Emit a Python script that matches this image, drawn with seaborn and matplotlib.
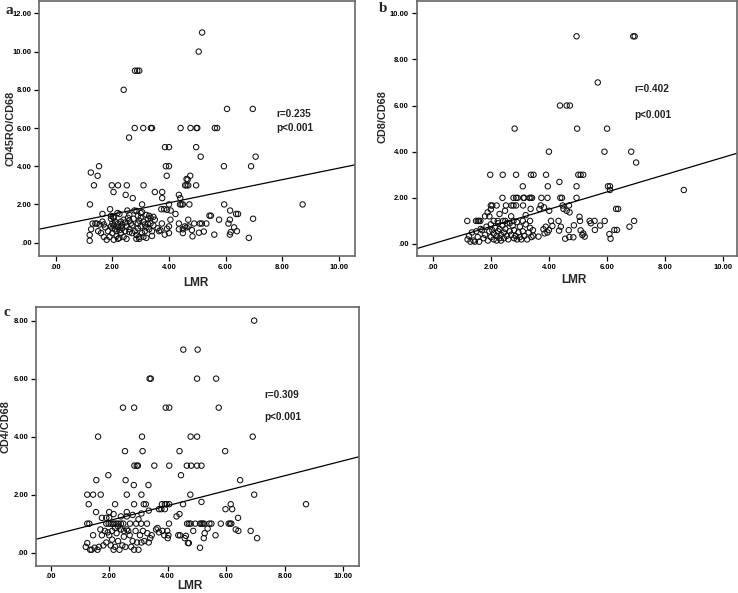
import numpy as np
import pandas as pd
import matplotlib
matplotlib.use("Agg")
import matplotlib.pyplot as plt
import seaborn as sns

# ---------------- data ----------------
# Panel a: LMR vs CD45RO/CD68
lmr_a = [5.17, 5.05, 2.80, 2.88, 2.95, 2.40, 6.05, 6.96,
         2.79, 3.09, 3.36, 3.40, 4.41, 4.76, 4.97, 5.00, 5.62, 5.70, 2.59, 3.86, 4.00, 4.96, 5.12, 7.06,
         1.53, 3.89, 4.00, 5.94, 6.90, 1.24, 1.48, 3.92, 4.75, 4.62, 4.66,
         1.35, 1.98, 2.20, 2.51, 3.10, 4.57, 4.62, 4.68, 4.96,
         2.04, 3.50, 3.76, 2.47, 4.35, 2.72, 3.76, 4.40, 1.21, 3.05, 4.00, 4.39, 4.44, 4.49, 4.72, 5.95, 8.72,
         1.92, 3.73, 3.83, 3.93, 4.06, 6.16, 2.53, 2.78, 2.85, 1.65, 4.23, 6.37, 6.44, 2.18, 2.25, 3.00, 3.05,
         3.20, 3.30, 5.43, 5.48, 1.95, 2.03, 2.60, 2.90, 3.35, 3.45,
         5.09, 5.16, 5.32, 4.68, 4.35, 6.15, 6.10, 6.97, 4.89, 5.77, 4.56, 4.62, 4.69, 4.49, 4.81,
         6.30, 6.40, 6.18, 5.06, 5.23, 5.60, 6.15, 6.82, 4.83, 4.49, 4.00, 4.00, 3.93, 3.85, 4.35,
         3.65, 3.70, 3.75, 3.60, 4.05,
         1.2, 1.25, 1.2, 1.3, 1.4, 1.45, 1.5, 1.6, 1.65, 1.7, 1.75, 1.8, 1.85, 1.9, 1.95, 1.95, 2.0, 2.0,
         2.05, 2.05, 2.1, 2.1, 2.15, 2.15, 2.2, 2.2, 2.2, 2.25, 2.25, 2.3, 2.3, 2.35, 2.35, 2.4, 2.4, 2.45,
         2.5, 2.5, 2.55, 2.6, 2.6, 2.65, 2.7, 2.7, 2.75, 2.8, 2.85, 2.85, 2.9, 2.9, 2.95, 2.95, 3.0, 3.0,
         3.05, 3.1, 3.1, 3.15, 3.2, 3.2, 3.25, 3.3, 3.35, 3.4, 3.4, 3.45, 3.5, 3.25, 2.45, 1.55,
         2.0, 2.3, 2.6, 2.95, 3.15, 1.7, 2.05]
cd45ro_cd68 = [11.0, 10.0, 9.0, 9.0, 9.0, 8.0, 7.0, 7.0,
               6, 6, 6, 6, 6, 6, 6, 6, 6, 6, 5.5, 5, 5, 5, 4.5, 4.5,
               4, 4, 4, 4, 4, 3.67, 3.5, 3.5, 3.5, 3.33, 3.3,
               3, 3, 3, 3, 3, 3, 3, 3, 3,
               2.65, 2.65, 2.65, 2.5, 2.5, 2.33, 2.33, 2.33, 2, 2, 2, 2, 2, 2, 2, 2, 2,
               1.75, 1.75, 1.75, 1.72, 1.68, 1.68, 1.68, 1.68, 1.66, 1.5, 1.5, 1.5, 1.5, 1.55, 1.5, 1.55, 1.6,
               1.45, 1.4, 1.41, 1.41, 1.4, 1.35, 1.45, 1.4, 1.3, 1.35,
               1.0, 1.0, 1.0, 1.2, 1.0, 1.2, 1.0, 1.25, 1.0, 1.2, 0.85, 0.8, 0.85, 0.7, 0.66,
               0.8, 0.6, 0.55, 0.52, 0.58, 0.42, 0.42, 0.25, 0.33, 0.5, 0.85, 0.5, 0.73, 0.42, 0.7,
               0.6, 0.65, 1.0, 0.75, 1.2,
               0.4, 0.7, 0.1, 1.0, 1.0, 1.0, 0.6, 0.5, 1.1, 0.95, 0.8, 0.15, 0.6, 0.3, 0.85, 1.25, 0.5, 0.75,
               1.3, 0.9, 0.7, 1.1, 0.6, 0.35, 0.8, 0.2, 1.0, 0.25, 0.65, 1.1, 0.5, 0.75, 0.95, 0.3, 1.2, 0.6,
               0.2, 0.85, 1.3, 0.55, 0.7, 1.0, 0.9, 0.5, 1.25, 0.6, 0.2, 0.4, 1.0, 0.75, 0.3, 0.2, 1.3, 0.85,
               0.5, 0.3, 1.1, 0.6, 0.8, 0.25, 1.0, 0.7, 1.0, 0.35, 0.6, 0.9, 1.2, 1.25, 1.05, 0.95,
               1.0, 0.85, 1.15, 1.15, 0.95, 0.3, 0.15]

# Panel b: LMR vs CD8/CD68
lmr_b = [4.95, 6.90, 6.95, 5.68, 4.38, 4.61, 4.72, 2.82, 4.97, 6.00, 4.00, 5.91, 6.83, 7.00,
         1.98, 2.41, 2.87, 3.38, 3.47, 3.90, 5.01, 5.09, 5.18,
         4.36, 3.10, 3.96, 4.95, 6.03, 6.10, 6.10, 8.64,
         2.40, 2.78, 2.87, 2.92, 3.12, 3.15, 3.33, 3.37, 3.42, 3.74, 3.95, 4.39, 4.45, 4.95,
         2.00, 2.05, 2.20, 2.52, 2.71, 2.78, 2.87, 3.11, 3.72, 4.47, 4.69,
         1.89, 2.49, 3.37, 3.67, 3.83, 4.01, 4.50, 4.61, 4.71, 6.31, 6.38, 5.05,
         1.19, 1.49, 1.55, 1.59, 1.64, 2.24, 2.42, 2.78, 3.10, 3.35, 4.07, 4.33, 5.07, 5.40, 5.57, 5.92, 6.93,
         4.86, 5.09, 5.18, 5.44, 5.76, 5.58, 6.08, 6.12, 6.25, 6.34, 6.77, 5.23, 5.15, 4.56, 4.70,
         4.84, 4.68, 4.35, 4.41, 4.00, 3.95, 4.12, 3.81, 3.64, 3.46, 3.85, 3.89,
         1.2, 1.25, 1.3, 1.35, 1.4, 1.45, 1.5, 1.55, 1.6, 1.7, 1.75, 1.8, 1.85, 1.9, 1.95, 2.0, 2.0, 2.05,
         2.1, 2.1, 2.15, 2.2, 2.2, 2.25, 2.25, 2.3, 2.3, 2.35, 2.35, 2.4, 2.45, 2.45, 2.5, 2.55, 2.55, 2.6,
         2.65, 2.7, 2.75, 2.8, 2.8, 2.85, 2.9, 2.95, 3.0, 3.0, 3.05, 3.1, 3.15, 3.2, 3.25, 3.3, 3.35, 3.4,
         3.45, 2.1, 2.5, 2.9, 1.65, 2.65, 1.95, 2.3, 2.7, 3.2, 2.0, 1.8]
cd8_cd68 = [9, 9, 9, 7, 6, 6, 6, 5, 5, 5, 4, 4, 4, 3.53,
            3, 3, 3, 3, 3, 3, 3, 3, 3,
            2.69, 2.5, 2.5, 2.5, 2.5, 2.5, 2.34, 2.34,
            2, 2, 2, 2, 2, 2, 2, 2, 2, 2, 2, 2, 2, 2,
            1.67, 1.67, 1.67, 1.67, 1.67, 1.67, 1.67, 1.67, 1.67, 1.67, 1.67,
            1.37, 1.44, 1.52, 1.52, 1.59, 1.44, 1.52, 1.44, 1.37, 1.52, 1.52, 1.18,
            1, 1, 1, 1, 1, 1, 1, 1, 1, 1, 1, 1, 1, 1, 1, 1, 1,
            0.81, 0.59, 0.46, 0.9, 0.8, 0.61, 0.43, 0.23, 0.61, 0.61, 0.75, 0.32, 0.39, 0.23, 0.3,
            0.29, 0.6, 0.58, 0.75, 0.6, 0.5, 0.78, 0.64, 0.32, 0.36, 0.46, 0.75,
            0.2, 0.35, 0.1, 0.5, 0.15, 0.1, 0.55, 0.3, 0.1, 0.6, 0.25, 0.4, 0.75, 0.15, 0.55, 0.3, 0.85, 0.6,
            0.2, 0.45, 0.7, 0.15, 0.35, 0.55, 0.9, 0.25, 0.65, 0.4, 0.15, 0.8, 0.5, 0.25, 0.65, 0.35, 0.9, 0.2,
            0.55, 0.4, 0.8, 0.25, 0.6, 0.35, 0.2, 0.5, 0.75, 0.3, 0.2, 0.55, 0.35, 0.85, 0.2, 0.5, 0.7, 0.3,
            0.6, 1.0, 1.0, 0.95, 0.65, 0.9, 1.2, 1.3, 1.2, 1.25, 1.5, 1.2]

# Panel c: LMR vs CD4/CD68
lmr_c = [6.95, 4.53, 5.02, 3.38, 3.42, 5.00, 5.65, 2.47, 2.85, 3.93, 4.05, 5.74,
         1.62, 3.12, 4.78, 5.00, 6.90, 2.54, 3.14, 4.40, 5.96,
         2.86, 2.94, 2.98, 3.54, 4.05, 4.65, 4.80, 5.00, 5.15, 1.97, 4.45, 1.56, 2.56, 6.47, 2.84, 3.34,
         1.25, 1.45, 1.71, 2.60, 3.10, 4.77, 6.95,
         1.30, 3.18, 5.15, 6.15, 8.72, 3.80, 3.90, 3.96, 4.05, 2.20, 2.85, 3.25, 4.52, 6.20, 3.70,
         3.78, 3.90, 5.97, 1.55, 2.00, 2.60, 3.35, 4.40, 1.90,
         1.25, 1.32, 1.90, 1.98, 2.05, 2.12, 2.18, 2.25, 2.32, 2.40, 2.48, 2.71, 2.92, 3.09, 3.29,
         4.04, 4.66, 4.72, 4.78, 4.94, 5.10, 5.15, 5.19, 5.24, 5.42, 5.49, 5.81, 6.08, 6.13, 6.17,
         6.40, 6.32, 6.41, 4.87, 6.83, 5.63, 5.23, 7.05, 5.26, 5.36, 5.10, 4.36, 4.42, 4.69, 4.72,
         4.58, 4.62, 3.65, 3.70, 3.82, 3.98, 4.00, 4.02, 4.30, 3.60, 3.88,
         1.2, 1.25, 1.35, 1.4, 1.45, 1.5, 1.6, 1.65, 1.7, 1.75, 1.8, 1.85, 1.9, 1.95, 2.0, 2.05, 2.1, 2.1,
         2.15, 2.2, 2.2, 2.25, 2.3, 2.3, 2.35, 2.4, 2.45, 2.5, 2.5, 2.55, 2.6, 2.65, 2.7, 2.75, 2.8, 2.85,
         2.9, 2.95, 3.0, 3.05, 3.1, 3.15, 3.2, 3.3, 3.35, 3.4, 3.45, 2.0, 2.4, 2.8, 3.1, 1.75, 2.15, 2.6, 3.0]
cd4_cd68 = [8, 7, 7, 6, 6, 6, 6, 5, 5, 5, 5, 5,
            4, 4, 4, 4, 4, 3.5, 3.5, 3.5, 3.5,
            3, 3, 3, 3, 3, 3, 3, 3, 3, 2.67, 2.67, 2.5, 2.5, 2.5, 2.33, 2.33,
            2, 2, 2, 2, 2, 2, 2,
            1.67, 1.67, 1.75, 1.67, 1.67, 1.67, 1.67, 1.67, 1.67, 1.67, 1.67, 1.67, 1.67, 1.5, 1.5,
            1.5, 1.5, 1.5, 1.4, 1.4, 1.4, 1.45, 1.33, 1.2,
            1, 1, 1, 1, 1, 1, 1, 1, 1, 1, 1, 1, 1, 1, 1,
            1, 1, 1, 1, 1, 1, 1, 1, 1, 1, 1, 1, 1, 1, 1,
            1.2, 0.8, 0.75, 0.75, 0.75, 0.6, 0.5, 0.5, 0.67, 0.83, 0.17, 0.6, 0.6, 0.33, 0.33,
            0.5, 0.58, 0.85, 0.7, 0.75, 0.75, 0.5, 0.6, 1.25, 0.8, 0.6,
            0.2, 0.33, 0.1, 0.1, 0.6, 0.17, 0.1, 0.2, 0.8, 0.6, 0.25, 0.75, 0.35, 0.7, 0.6, 0.25, 0.75, 0.45,
            0.1, 0.85, 0.2, 0.67, 0.4, 0.9, 0.1, 0.8, 0.25, 0.75, 0.55, 0.2, 0.8, 0.75, 0.6, 0.2, 0.4, 0.1,
            0.75, 0.35, 0.1, 0.6, 0.35, 0.75, 0.4, 0.67, 0.35, 0.5, 0.6, 1.2, 1.25, 1.3, 1.35, 1.2, 1.33, 1.25, 1.15]

# fitted regression lines (intercept, slope) and statistics
fit_a = (0.88, 0.302)
fit_b = (0.006, 0.375)
fit_c = (0.59, 0.258)
stats_a = ["r=0.235", "p<0.001"]
stats_b = ["r=0.402", "p<0.001"]
stats_c = ["r=0.309", "p<0.001"]

x_ticks = [0, 2, 4, 6, 8, 10]
x_tick_labels = [".00", "2.00", "4.00", "6.00", "8.00", "10.00"]
y_ticks_a = [0, 2, 4, 6, 8, 10, 12]
y_tick_labels_a = [".00", "2.00", "4.00", "6.00", "8.00", "10.00", "12.00"]
y_ticks_b = [0, 2, 4, 6, 8, 10]
y_tick_labels_b = [".00", "2.00", "4.00", "6.00", "8.00", "10.00"]
y_ticks_c = [0, 2, 4, 6, 8]
y_tick_labels_c = [".00", "2.00", "4.00", "6.00", "8.00"]

# ---------------- plotting ----------------
sns.set_style("white")
plt.rcParams["font.family"] = ["Liberation Sans", "DejaVu Sans"]

W, H = 738, 593
fig = plt.figure(figsize=(W / 100, H / 100), dpi=100)


def add_ax(l, t, r, b):
    return fig.add_axes([l / W, 1 - b / H, (r - l) / W, (b - t) / H])


panels = [
    dict(box=(39.3, 1, 355, 256), x=lmr_a, y=cd45ro_cd68, fit=fit_a, stats=stats_a,
         xlim=(-0.58, 10.57), ylim=(-0.70, 12.65), yt=y_ticks_a, ytl=y_tick_labels_a,
         ylabel="CD45RO/CD68", letter="a", letter_pos=(9, 10),
         xlab_pos=(196, 283), ylab_pos=(11, 128), stat_xy=(7.8, 6.74, 6.0)),
    dict(box=(416.7, 1, 736.7, 256), x=lmr_b, y=cd8_cd68, fit=fit_b, stats=stats_b,
         xlim=(-0.55, 10.46), ylim=(-0.52, 10.53), yt=y_ticks_b, ytl=y_tick_labels_b,
         ylabel="CD8/CD68", letter="b", letter_pos=(383, 9),
         xlab_pos=(574, 280), ylab_pos=(383, 117), stat_xy=(6.93, 6.7, 5.59)),
    dict(box=(36, 306.7, 359.3, 565.7), x=lmr_c, y=cd4_cd68, fit=fit_c, stats=stats_c,
         xlim=(-0.50, 10.54), ylim=(-0.45, 8.48), yt=y_ticks_c, ytl=y_tick_labels_c,
         ylabel="CD4/CD68", letter="c", letter_pos=(7, 313),
         xlab_pos=(190, 586), ylab_pos=(6, 427), stat_xy=(7.3, 5.44, 4.67)),
]

for p in panels:
    l, t, r, b = p["box"]
    ax = add_ax(l, t, r, b)
    df = pd.DataFrame({"x": p["x"], "y": p["y"]})
    sns.scatterplot(data=df, x="x", y="y", ax=ax, s=15, marker="o",
                    facecolors="none", edgecolor="#111111", linewidth=0.75, legend=False)
    ax.set_xlim(*p["xlim"])
    ax.set_ylim(*p["ylim"])
    xs = np.array(p["xlim"])
    ax.plot(xs, p["fit"][0] + p["fit"][1] * xs, color="black", lw=0.9)

    ax.set_xticks(x_ticks)
    ax.set_xticklabels(x_tick_labels)
    ax.set_yticks(p["yt"])
    ax.set_yticklabels(p["ytl"])
    ax.tick_params(axis="both", direction="out", length=3.5, width=0.9, labelsize=5.5,
                   pad=2, colors="black", bottom=True, left=True)
    for lab in ax.get_xticklabels() + ax.get_yticklabels():
        lab.set_fontweight("bold")
    for s in ax.spines.values():
        s.set_color("#666666")
        s.set_linewidth(1.2)
        s.set_visible(True)

    # axis labels
    ax.set_xlabel("LMR", fontsize=8.5, fontweight="bold")
    ax.set_ylabel(p["ylabel"], fontsize=7.8, fontweight="bold")
    cx, cy = p["xlab_pos"]
    ax.xaxis.set_label_coords((cx - l) / (r - l), (b - cy) / (b - t))
    ax.xaxis.label.set_va("center")
    cx, cy = p["ylab_pos"]
    ax.yaxis.set_label_coords((cx - l) / (r - l), (b - cy) / (b - t))
    ax.yaxis.label.set_va("center")

    sx, sy1, sy2 = p["stat_xy"]
    ax.text(sx, sy1, p["stats"][0], fontsize=7.2, fontweight="bold", color="#222222",
            va="center", ha="left")
    ax.text(sx, sy2, p["stats"][1], fontsize=7.2, fontweight="bold", color="#222222",
            va="center", ha="left")

    lx, ly = p["letter_pos"]
    fig.text(lx / W, 1 - ly / H, p["letter"], fontsize=11, fontweight="bold",
             family=["Liberation Serif", "DejaVu Serif"], ha="center", va="center")

fig.savefig("out.png", dpi=100)
